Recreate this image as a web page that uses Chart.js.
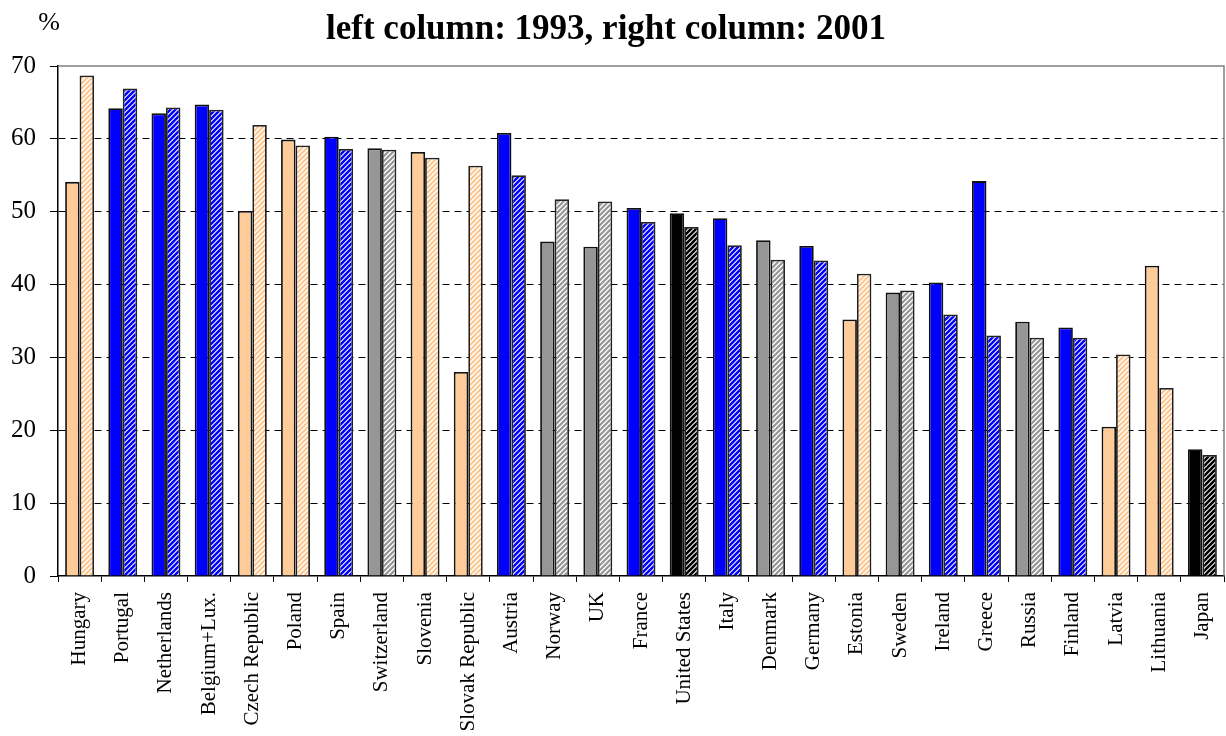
<!DOCTYPE html>
<html>
<head>
<meta charset="utf-8">
<script src="https://cdn.jsdelivr.net/npm/chart.js@4.4.1/dist/chart.umd.min.js"></script>
<style>
  html, body { margin: 0; padding: 0; background: #fff; }
  #wrap { position: relative; width: 1226px; height: 736px; }
</style>
</head>
<body>
<div id="wrap"><canvas id="c" width="1226" height="736"></canvas></div>
<script>
// ---- data ----
const categories = ["Hungary","Portugal","Netherlands","Belgium+Lux.","Czech Republic","Poland","Spain","Switzerland","Slovenia","Slovak Republic","Austria","Norway","UK","France","United States","Italy","Denmark","Germany","Estonia","Sweden","Ireland","Greece","Russia","Finland","Latvia","Lithuania","Japan"];
const values1993 = [54.1, 64.2, 63.5, 64.7, 50.1, 59.9, 60.3, 58.7, 58.2, 28.0, 60.8, 45.9, 45.2, 50.5, 49.8, 49.1, 46.1, 45.3, 35.2, 38.9, 40.3, 54.2, 34.9, 34.1, 20.5, 42.6, 17.4];
const values2001 = [68.7, 66.9, 64.3, 64.0, 61.9, 59.1, 58.6, 58.5, 57.4, 56.3, 55.0, 51.7, 51.4, 48.6, 47.9, 45.4, 43.4, 43.3, 41.5, 39.2, 35.9, 33.0, 32.7, 32.7, 30.4, 25.8, 16.6];
// country group: T = transition, E = EU, O = other Europe, B = US/Japan
const groups = ["T","E","E","E","T","T","E","O","T","T","E","O","O","E","B","E","O","E","T","O","E","E","O","E","T","T","B"];
const yTicks = [0, 10, 20, 30, 40, 50, 60, 70];
const titleText = "left column: 1993, right column: 2001";
const unitText = "%";

// ---- styles ----
const solidColors = { T: "#FFCC99", E: "#0000FF", O: "#969696", B: "#000000" };
const stripeColors = { T: "#FFC58C", E: "#0000FF", O: "#969696", B: "#000000" };
const stripeWidths = { T: 2.0, E: 2.5, O: 2.2, B: 2.6 };
const serif = "'Liberation Serif', 'Times New Roman', serif";

function makePattern(color, lw) {
  const s = 5;
  const c = document.createElement("canvas");
  c.width = s; c.height = s;
  const g = c.getContext("2d");
  g.fillStyle = "#fff";
  g.fillRect(0, 0, s, s);
  g.strokeStyle = color;
  g.lineWidth = lw;
  g.beginPath();
  g.moveTo(-1, 1); g.lineTo(1, -1);
  g.moveTo(0, s); g.lineTo(s, 0);
  g.moveTo(s - 1, s + 1); g.lineTo(s + 1, s - 1);
  g.stroke();
  return document.getElementById("c").getContext("2d").createPattern(c, "repeat");
}
const patterns = {};
Object.keys(stripeColors).forEach(k => patterns[k] = makePattern(stripeColors[k], stripeWidths[k]));

const extras = {
  id: "extras",
  beforeDatasetsDraw(chart) {
    const { ctx, chartArea: a } = chart;
    ctx.save();
    ctx.strokeStyle = "#808080";
    ctx.lineWidth = 1.5;
    ctx.beginPath();
    ctx.moveTo(a.left, a.top);
    ctx.lineTo(a.right, a.top);
    ctx.lineTo(a.right, a.bottom);
    ctx.stroke();
    ctx.restore();
  },
  afterDraw(chart) {
    const { ctx } = chart;
    ctx.save();
    ctx.fillStyle = "#000";
    ctx.textAlign = "center";
    ctx.textBaseline = "alphabetic";
    ctx.font = "bold 35px " + serif;
    ctx.fillText(titleText, 606, 39);
    ctx.font = "26px " + serif;
    ctx.fillText(unitText, 49, 30);
    ctx.restore();
  }
};

new Chart(document.getElementById("c"), {
  type: "bar",
  data: {
    labels: categories,
    datasets: [
      {
        label: "1993",
        data: values1993,
        backgroundColor: groups.map(g => solidColors[g]),
        borderColor: "#111",
        borderWidth: 1.8,
        categoryPercentage: 0.67,
        barPercentage: 1.0
      },
      {
        label: "2001",
        data: values2001,
        backgroundColor: groups.map(g => patterns[g]),
        borderColor: "#222",
        borderWidth: 1.8,
        categoryPercentage: 0.67,
        barPercentage: 1.0
      }
    ]
  },
  options: {
    responsive: false,
    animation: false,
    devicePixelRatio: 1,
    layout: { padding: { top: 66, right: 2, left: 0, bottom: 0 } },
    plugins: { legend: { display: false }, title: { display: false }, tooltip: { enabled: false } },
    scales: {
      x: {
        grid: { offset: true, drawOnChartArea: false, drawTicks: true, tickLength: 6, tickColor: "#000", tickWidth: 1 },
        border: { display: true, color: "#000", width: 1.5 },
        ticks: { autoSkip: false, minRotation: 90, maxRotation: 90, padding: 10, color: "#000", font: { family: serif, size: 21 } },
        afterFit(s) { s.height = 160; s.paddingLeft = 0; s.paddingRight = 0; }
      },
      y: {
        min: 0, max: 70,
        afterBuildTicks(s) { s.ticks = yTicks.map(v => ({ value: v })); },
        grid: {
          color: ctx => (ctx.tick && (ctx.tick.value === 0 || ctx.tick.value === 70)) ? "rgba(0,0,0,0)" : "#000",
          lineWidth: 1,
          drawTicks: true,
          tickLength: 8,
          tickColor: "#000",
          tickWidth: 1,
          tickBorderDash: []
        },
        border: { display: true, color: "#000", width: 1.5, dash: ctx => ctx.tick ? [7, 5] : [] },
        ticks: { padding: 14, color: "#000", font: { family: serif, size: 25 } },
        afterFit(s) { s.width = 58; s.paddingTop = 0; s.paddingBottom = 0; }
      }
    }
  },
  plugins: [extras]
});
</script>
</body>
</html>
